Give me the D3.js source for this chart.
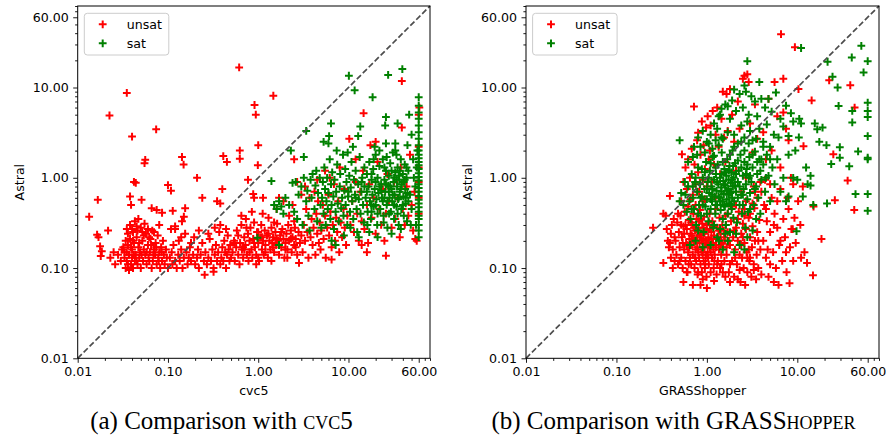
<!DOCTYPE html>
<html>
<head>
<meta charset="utf-8">
<script src="https://cdn.jsdelivr.net/npm/d3@7"></script>
<style>
  body { margin: 0; background: #fff; }
  text { font-family: "DejaVu Sans", sans-serif; }
</style>
</head>
<body>
<div id="chart"></div>
<script>

const AX_MIN = 0.01
const AX_MAX = 80
const majorTicks = [0.01, 0.1, 1, 10, 60]
const seriesNames = ["unsat", "sat"]
const yLabel = "Astral"

// (a) Astral vs cvc5, seconds
const cvc5Unsat = [
  [0.0134,0.37],[0.0167,0.57],[0.0225,4.9],[0.035,8.7],[0.040,2.86],[0.074,3.44],[0.056,1.58],[0.055,1.45],[0.042,0.9],[0.044,0.88],
  [0.0217,0.26],[0.051,0.57],[0.10,0.83],[0.108,0.72],[0.143,1.7],[0.149,1.4],[0.21,1.0],[0.24,0.6],[0.41,1.74],[0.45,1.5],
  [0.40,0.75],[0.35,0.55],[0.38,0.52],[0.615,16.7],[0.625,2.0],[0.625,1.62],[0.91,6.4],[0.94,5.0],[1.0,2.3],[0.99,1.38],
  [1.47,8.1],[0.77,0.95],[0.88,0.66],[0.9,0.6],[1.13,0.6],[14.7,5.2],[39,11.8],[39,3.6],[26,0.137],[2.83,0.114],
  [0.255,0.084],[0.32,0.091],[6.5,0.124],[2.5,1.6],[10.2,2.7],[20,2.5],[17.5,2.3],[55,0.21],[61,6],[60,5],[16,0.15],[14,0.18],
  [0.038,0.62],[0.039,0.5],[0.066,0.46],[0.075,0.44],[0.086,0.41],[0.113,0.43],[0.143,0.33],[0.15,0.37],[0.155,0.46],[0.108,0.27],[0.12,0.29],
  [0.0164,0.234],[0.017,0.22],[0.0177,0.174],[0.0185,0.153],[0.018,0.136],
  [0.028,0.14],[0.03,0.12],[0.031,0.16],[0.033,0.13],[0.034,0.1],[0.035,0.15],[0.035,0.12],[0.036,0.18],[0.037,0.095],[0.037,0.14],
  [0.038,0.21],[0.039,0.11],[0.04,0.13],[0.04,0.16],[0.041,0.25],[0.041,0.1],[0.042,0.19],[0.043,0.12],[0.044,0.14],[0.045,0.22],
  [0.046,0.11],[0.047,0.17],[0.048,0.13],[0.049,0.15],[0.05,0.28],[0.05,0.1],[0.052,0.2],[0.053,0.12],[0.054,0.16],[0.056,0.14],
  [0.057,0.24],[0.058,0.11],[0.06,0.18],[0.061,0.13],[0.063,0.15],[0.064,0.21],[0.066,0.1],[0.067,0.26],[0.068,0.12],[0.07,0.16],
  [0.072,0.14],[0.073,0.19],[0.075,0.11],[0.077,0.23],[0.078,0.13],[0.08,0.15],[0.082,0.1],[0.084,0.17],[0.086,0.12],[0.088,0.2],
  [0.09,0.14],[0.092,0.11],[0.095,0.16],[0.097,0.13],[0.1,0.1],[0.038,0.3],[0.04,0.27],[0.043,0.33],[0.045,0.29],[0.047,0.35],
  [0.055,0.31],[0.06,0.27],[0.07,0.25],[0.08,0.3],[0.036,0.24],[0.034,0.2],[0.032,0.17],[0.025,0.15],[0.023,0.13],[0.026,0.11],
  [0.033,0.15],[0.036,0.11],[0.039,0.17],[0.042,0.14],[0.045,0.12],[0.048,0.19],[0.051,0.14],[0.054,0.23],[0.058,0.15],[0.062,0.12],
  [0.065,0.18],[0.069,0.14],[0.074,0.17],[0.079,0.12],[0.085,0.15],[0.046,0.26],[0.052,0.25],[0.062,0.22],[0.035,0.27],[0.041,0.2],
  [0.105,0.13],[0.11,0.15],[0.112,0.11],[0.115,0.18],[0.12,0.12],[0.125,0.1],[0.13,0.14],[0.132,0.2],[0.135,0.12],[0.14,0.16],
  [0.145,0.1],[0.15,0.13],[0.155,0.24],[0.16,0.15],[0.165,0.11],[0.17,0.13],[0.175,0.17],[0.18,0.12],[0.19,0.14],[0.195,0.22],
  [0.2,0.11],[0.21,0.13],[0.215,0.16],[0.22,0.1],[0.23,0.14],[0.24,0.19],[0.25,0.12],[0.26,0.15],[0.27,0.11],[0.28,0.13],
  [0.29,0.21],[0.3,0.12],[0.31,0.16],[0.32,0.1],[0.33,0.14],[0.34,0.18],[0.35,0.12],[0.36,0.15],[0.37,0.25],[0.38,0.11],
  [0.39,0.13],[0.4,0.17],[0.41,0.12],[0.42,0.2],[0.43,0.15],[0.44,0.1],[0.45,0.14],[0.46,0.23],[0.47,0.16],[0.48,0.12],
  [0.49,0.18],[0.5,0.13],[0.12,0.27],[0.14,0.22],[0.18,0.19],[0.22,0.26],[0.28,0.24],[0.33,0.28],[0.38,0.3],[0.44,0.27],
  [0.52,0.15],[0.54,0.2],[0.55,0.12],[0.57,0.17],[0.58,0.26],[0.6,0.14],[0.62,0.11],[0.63,0.19],[0.65,0.3],[0.66,0.16],
  [0.68,0.13],[0.7,0.22],[0.72,0.18],[0.73,0.35],[0.75,0.14],[0.77,0.24],[0.78,0.12],[0.8,0.2],[0.82,0.28],[0.84,0.16],
  [0.86,0.13],[0.88,0.21],[0.9,0.32],[0.92,0.17],[0.95,0.14],[0.97,0.25],[1.0,0.19],[1.02,0.12],[1.05,0.22],[1.08,0.3],
  [1.1,0.16],[1.13,0.2],[1.15,0.14],[1.18,0.26],[1.2,0.18],[1.25,0.23],[1.28,0.13],[1.3,0.36],[1.33,0.2],[1.36,0.16],
  [1.4,0.28],[1.43,0.19],[1.46,0.22],[1.5,0.15],[1.55,0.25],[1.58,0.18],[1.62,0.31],[1.66,0.2],[1.7,0.14],[1.75,0.23],
  [1.8,0.17],[1.85,0.27],[1.9,0.21],[1.95,0.13],[2.0,0.19],[2.05,0.24],[2.1,0.16],[2.15,0.3],[2.2,0.2],[2.3,0.26],
  [2.35,0.15],[2.4,0.22],[2.5,0.18],[2.55,0.28],[2.6,0.21],[2.7,0.14],[2.8,0.25],[2.9,0.19],[3.0,0.23],[1.12,0.4],
  [0.85,0.42],[1.6,0.45],[2.2,0.38],[0.65,0.38],[1.9,0.55],[1.7,0.6],[2.4,0.5],[0.95,0.11],[1.4,0.12],[2.1,0.13],
  [0.55,0.19],[0.6,0.23],[0.68,0.17],[0.74,0.28],[0.8,0.15],[0.9,0.19],[1.0,0.25],[1.1,0.22],[1.2,0.15],[1.3,0.24],
  [1.45,0.17],[1.6,0.21],[1.8,0.25],[2.0,0.16],[2.3,0.21],[2.6,0.17],[1.0,0.13],[0.7,0.16],[1.5,0.32],[2.5,0.33],
  [3.1,0.15],[3.2,0.3],[3.3,0.2],[3.4,0.45],[3.5,0.25],[3.6,0.13],[3.7,0.6],[3.8,0.22],[3.9,0.35],[4.0,0.18],
  [4.1,0.28],[4.2,0.7],[4.3,0.14],[4.4,0.4],[4.5,0.24],[4.6,0.55],[4.7,0.19],[4.8,0.32],[4.9,0.16],[5.0,0.26],
  [5.2,0.5],[5.3,0.21],[5.5,0.38],[5.6,0.13],[5.8,0.28],[6.0,0.65],[6.1,0.23],[6.3,0.42],[6.5,0.17],[6.7,0.3],
  [6.9,0.85],[7.1,0.2],[7.3,0.36],[7.5,0.25],[7.7,0.55],[7.9,0.15],[8.2,0.32],[8.5,0.22],[8.8,0.45],[9.1,0.28],
  [9.4,0.18],[9.7,0.38],[3.3,0.8],[4.5,0.95],[5.5,1.2],[6.2,1.0],[8.0,1.3],[9.0,0.75],[3.0,0.65],[2.7,0.9],
  [10.5,0.3],[11,0.55],[11.5,0.25],[12,0.9],[12.5,0.4],[13,0.2],[13.5,0.7],[14,0.33],[14.5,1.2],[15,0.27],
  [16,0.5],[16.5,0.19],[17,0.85],[18,0.36],[19,0.6],[20,0.24],[21,1.5],[22,0.45],[23,0.3],[24,0.75],
  [25,0.2],[26,0.4],[27,1.1],[28,0.55],[30,0.28],[32,0.9],[33,0.35],[35,0.6],[37,0.22],[38,1.3],
  [40,0.45],[42,0.3],[44,0.8],[46,0.38],[48,1.8],[50,0.5],[52,0.26],[54,0.7],[57,0.2],[60,0.4],
  [60,0.9],[60,1.3],[60,2.2],[60,0.6],[12,1.6]
]

const cvc5Sat = [
  [10.1,13.5],[11.7,9.3],[18.5,7.8],[27.5,13.8],[39.5,16],[26,4.7],[25.5,3.8],[6.4,4.0],[6.1,2.9],[3.4,3.3],
  [2.3,2.0],[3.2,1.7],[1.4,0.92],[0.98,0.216],[1.7,0.18],[13.5,3.7],[12.8,2.9],[33,2.4],[35,4.0],[45,2.3],[50,3.0],[47,5.0],
  [1.5,0.5],[1.6,0.45],[1.7,0.55],[1.8,0.48],[1.9,0.4],[2.0,0.6],[2.2,0.5],[2.4,0.88],[2.5,0.42],[2.6,0.9],
  [2.7,0.35],[2.8,0.65],[3.0,0.8],[3.1,0.3],[3.2,1.0],[3.4,0.55],[3.5,0.72],[3.6,0.38],[3.8,0.95],[3.9,0.6],
  [4.0,1.1],[4.2,0.45],[4.3,0.82],[4.5,0.33],[4.6,0.68],[4.8,1.0],[4.9,0.5],[5.0,0.28],[4.4,1.2],[3.7,0.26],
  [5.1,0.6],[5.2,0.9],[5.3,0.4],[5.4,1.3],[5.5,0.75],[5.6,0.3],[5.7,0.55],[5.8,1.0],[5.9,0.45],[6.0,0.68],
  [6.2,1.6],[6.3,0.35],[6.4,0.85],[6.5,0.5],[6.6,1.15],[6.8,0.62],[6.9,0.27],[7.0,0.95],[7.2,0.42],[7.3,0.7],
  [7.5,1.4],[7.6,0.52],[7.8,0.33],[8.0,0.8],[8.1,1.1],[8.3,0.46],[8.5,0.6],[8.7,1.8],[8.8,0.38],[9.0,0.72],
  [9.2,1.25],[9.3,0.5],[9.5,0.9],[9.7,0.3],[9.9,0.62],[10.2,1.05],[10.4,0.42],[10.6,0.78],[10.8,1.5],[11.0,0.55],
  [11.3,0.35],[11.5,0.95],[11.8,0.65],[12.0,1.2],[12.3,0.45],[12.5,0.25],[12.8,0.85],[13.0,0.58],[13.3,1.7],[13.6,0.4],
  [13.9,0.7],[14.2,1.0],[14.5,0.5],[14.8,0.32],[15,0.8],[7.4,2.0],[9.8,1.9],[11.2,2.2],[6.0,2.4],[5.3,2.5],
  [8.9,0.23],[10.5,0.28],[6.5,0.2],[13,0.22],[7.2,0.18],
  [15.5,0.6],[16,1.1],[16.3,0.42],[16.7,0.8],[17,1.5],[17.3,0.55],[17.7,0.35],[18,0.95],[18.4,0.65],[18.8,1.25],
  [19,0.48],[19.5,0.75],[20,1.8],[20.4,0.58],[20.8,0.3],[21,1.0],[21.5,0.68],[22,1.35],[22.5,0.45],[23,0.85],
  [23.5,0.6],[24,1.6],[24.5,0.38],[25,0.95],[25.5,0.7],[26,1.2],[26.5,0.5],[27,0.28],[27.5,0.82],[28,1.05],
  [28.5,0.6],[29,1.45],[29.5,0.42],[30,0.75],[30.5,0.55],[31,1.9],[31.5,0.9],[32,0.35],[32.5,0.65],[33,1.15],
  [34,0.48],[34.5,0.8],[35,1.3],[35.5,0.58],[36,0.3],[36.5,0.95],[37,0.7],[38,1.6],[38.5,0.45],[39,0.85],
  [40,1.1],[40.5,0.62],[41,0.38],[42,1.4],[42.5,0.75],[43,0.52],[44,1.0],[44.5,0.33],[45,0.68],[19.5,2.2],
  [22,2.0],[26,2.4],[33,2.0],[17,0.25],[21,0.22],[30,0.24],[38,0.27],[16.2,0.3],[24.5,0.32],[28.2,0.4],
  [35,0.4],[18,0.5],[23,0.72],[27,0.55],[20,0.9],[25,1.3],[29,0.8],[32,1.0],[37,1.2],[41,0.9],
  [43,0.6],[19,1.6],[26.5,1.7],[34,1.8],
  [12,0.6],[14,0.9],[16,0.7],[18,1.1],[20,0.5],[22,0.8],[24,0.55],[26,0.85],[28,0.7],[30,1.2],
  [32,0.5],[34,0.95],[36,0.6],[38,0.75],[40,0.5],[42,0.95],[44,1.3],[46,0.55],[21,0.4],[25,0.6],
  [31,0.65],[36,1.05],[15,1.3],[18,0.42],[10,0.7],
  [60,0.22],[60,0.26],[60,0.3],[60,0.35],[60,0.38],[60,0.42],[60,0.47],[60,0.52],[60,0.57],[60,0.63],
  [60,0.7],[60,0.77],[60,0.85],[60,0.93],[60,1.02],[60,1.12],[60,1.25],[60,1.38],[60,1.5],[60,1.65],
  [60,1.8],[60,2.0],[60,2.3],[60,2.7],[60,3.2],[60,3.8],[60,4.5],[60,5.3],[60,6.3],[60,7.8],
  [57,1.3],[55,0.8],[53,1.0],[50,0.45],[48,0.65],[56,0.3],[52,1.6],[46,1.2],[49,0.3],[58,2.0]
]

// (b) Astral vs GRASShopper, seconds
const grassUnsat = [
  [0.45,0.2],[0.46,0.14],[0.47,0.32],[0.48,0.11],[0.49,0.25],[0.5,0.17],[0.51,0.38],[0.52,0.13],[0.53,0.22],[0.54,0.1],
  [0.55,0.29],[0.56,0.16],[0.57,0.42],[0.58,0.12],[0.59,0.19],[0.6,0.27],[0.61,0.09],[0.62,0.15],[0.63,0.34],[0.64,0.21],
  [0.65,0.13],[0.66,0.24],[0.67,0.11],[0.68,0.18],[0.69,0.3],[0.7,0.14],[0.71,0.4],[0.72,0.2],[0.73,0.1],[0.74,0.26],
  [0.75,0.16],[0.76,0.12],[0.77,0.35],[0.78,0.22],[0.79,0.085],[0.8,0.15],[0.81,0.28],[0.82,0.13],[0.83,0.19],[0.84,0.44],
  [0.85,0.11],[0.86,0.24],[0.87,0.16],[0.88,0.09],[0.89,0.31],[0.9,0.14],[0.91,0.21],[0.92,0.12],[0.93,0.37],[0.94,0.17],
  [0.95,0.1],[0.96,0.26],[0.97,0.13],[0.98,0.19],[0.99,0.08],[1.0,0.3],[1.02,0.15],[1.04,0.22],[1.05,0.11],[1.07,0.4],
  [1.08,0.17],[1.1,0.09],[1.12,0.25],[1.14,0.13],[1.15,0.33],[1.17,0.19],[1.19,0.1],[1.2,0.23],[1.22,0.14],[1.24,0.45],
  [1.26,0.18],[1.28,0.085],[1.3,0.28],[1.32,0.12],[1.34,0.21],[1.36,0.16],[1.38,0.36],[1.4,0.1],[1.42,0.24],[1.44,0.14],
  [1.46,0.19],[1.48,0.3],[1.5,0.09],[1.52,0.17],[1.54,0.26],[1.56,0.12],[1.58,0.2],[1.6,0.38],[0.55,0.07],[0.7,0.065],
  [0.85,0.065],[1.0,0.06],[0.62,0.48],[0.75,0.5],[0.9,0.55],[0.52,0.55],[0.66,0.58],[0.48,0.4],[0.58,0.3],[0.68,0.23],
  [0.78,0.17],[0.88,0.2],[0.98,0.14],[1.08,0.27],[1.18,0.16],[0.72,0.28],[0.82,0.33],[0.94,0.24],[1.04,0.18],[0.64,0.17],[0.54,0.19],
  [0.5,0.12],[0.52,0.3],[0.56,0.24],[0.6,0.18],[0.63,0.11],[0.67,0.32],[0.7,0.21],[0.74,0.13],[0.77,0.27],[0.8,0.09],
  [0.83,0.23],[0.86,0.35],[0.89,0.15],[0.92,0.28],[0.96,0.11],[1.0,0.2],[1.03,0.13],[1.06,0.32],[1.1,0.15],[1.13,0.21],
  [1.17,0.29],[1.21,0.12],[1.25,0.17],[1.3,0.11],[1.35,0.26],[1.4,0.18],[1.45,0.11],[1.55,0.22],[1.65,0.17],[1.8,0.11],
  [0.6,0.09],[0.9,0.075],[1.2,0.072],[1.6,0.08],[2.2,0.075],[2.6,0.38],[3.0,0.13],[3.7,0.2],[4.5,0.45],[5.5,0.3],
  [6.5,0.2],[7.5,0.15],[5.0,0.11],[6.0,0.55],[3.4,0.7],
  [1.65,0.14],[1.7,0.25],[1.75,0.09],[1.8,0.18],[1.85,0.33],[1.9,0.12],[1.95,0.22],[2.0,0.08],[2.05,0.16],[2.1,0.28],
  [2.15,0.11],[2.2,0.2],[2.25,0.42],[2.3,0.14],[2.35,0.07],[2.4,0.24],[2.45,0.13],[2.5,0.31],[2.55,0.1],[2.6,0.19],
  [2.65,0.065],[2.7,0.27],[2.75,0.15],[2.8,0.09],[2.9,0.36],[2.95,0.12],[3.0,0.22],[3.1,0.08],[3.15,0.17],[3.2,0.29],
  [3.3,0.11],[3.35,0.46],[3.4,0.2],[3.5,0.075],[3.55,0.14],[3.6,0.25],[3.7,0.1],[3.8,0.34],[3.9,0.16],[4.0,0.085],
  [1.7,0.4],[1.9,0.48],[2.2,0.35],[2.6,0.45],[3.0,0.4],[1.8,0.07],[2.3,0.095],[2.8,0.13],[3.3,0.095],[1.62,0.3],
  [2.0,0.26],[2.4,0.18],[2.1,0.5],[3.6,0.6],[2.7,0.55],[3.2,0.52],[1.75,0.2],[2.05,0.13],[2.5,0.22],[2.9,0.16],
  [4.2,0.2],[4.3,0.5],[4.5,0.13],[4.6,0.33],[4.8,0.08],[5.0,0.25],[5.2,0.6],[5.4,0.15],[5.6,0.4],[5.8,0.1],
  [6.0,0.28],[6.3,0.18],[6.5,0.75],[6.8,0.12],[7.0,0.35],[7.3,0.22],[7.6,0.09],[8.0,0.45],[8.3,0.17],[8.6,0.27],
  [9.0,0.85],[9.3,0.36],[9.6,0.19],[10.2,0.55],[10.8,0.3],[11.5,0.8],[4.0,0.7],[4.4,0.95],[5.5,0.07],[6.2,0.065],
  [5.0,0.85],[7.8,0.6],[8.5,1.0],[9.0,0.12],[4.7,0.16],
  [11,0.13],[12,0.15],[12.8,0.114],[14.9,0.083],[8.2,0.068],[18.5,0.21],[15.1,0.48],[8.9,0.27],[11.7,2.24],[25,1.82],
  [36,0.93],[26,0.565],[42.6,0.44],[43,6.0],[38.5,10.6],[22.5,12],[14.4,7.2],[10.3,9.6],[9.4,28],[6.6,39],
  [0.254,0.28],[0.33,0.114],[0.33,0.4],[0.35,0.38],[0.37,0.2],[0.38,0.17],[0.39,0.63],[0.4,0.13],[0.4,0.24],[0.41,0.3],
  [0.42,0.1],[0.42,0.16],[0.43,0.35],[0.44,0.22],[0.44,0.12],[0.36,0.27],[0.39,0.19],
  [0.53,1.82],[0.72,6.15],[0.8,3.16],[0.55,0.9],[0.58,1.3],[0.6,0.75],[0.62,1.6],[0.65,1.0],[0.68,2.1],[0.7,0.65],
  [0.73,1.4],[0.75,0.85],[0.78,2.6],[0.8,1.15],[0.82,0.7],[0.85,1.8],[0.88,4.2],[0.9,0.95],[0.92,2.3],[0.95,1.25],
  [0.98,3.6],[1.0,0.8],[1.02,4.8],[1.05,1.6],[1.08,2.0],[1.1,3.8],[1.13,0.9],[1.16,5.5],[1.2,1.4],[1.25,3.0],
  [1.3,6.0],[1.35,2.2],[1.4,1.1],[1.45,4.5],[1.5,9.0],[1.55,2.8],[1.6,1.5],[1.65,8.5],[1.7,3.3],[1.8,9.6],
  [1.9,5.0],[2.0,2.5],[2.1,1.2],[2.2,7.0],[2.3,3.5],[2.5,12.5],[2.6,13.5],[2.8,14],[2.9,11.5],[3.0,4.0],
  [3.2,1.9],[3.4,6.5],[3.6,2.7],[3.9,0.9],[4.2,3.2],[4.5,1.6],[4.8,7.5],[5.2,2.0],[5.6,11.5],[6.0,4.8],
  [6.5,1.3],[7.0,12.5],[7.5,3.5],[8.0,2.6],[7.0,5.3],[2.4,0.7],[3.3,0.8],[1.25,0.6],[0.95,0.58],[2.7,1.0]
]

const grassSat = [
  [0.55,0.5],[0.58,0.65],[0.6,0.42],[0.62,0.8],[0.64,0.55],[0.66,0.35],[0.68,1.1],[0.7,0.6],[0.72,0.45],[0.74,0.9],
  [0.76,0.3],[0.78,0.7],[0.8,1.3],[0.82,0.5],[0.84,0.85],[0.86,0.38],[0.88,0.62],[0.9,1.0],[0.92,0.25],[0.94,0.75],
  [0.96,0.48],[0.98,1.5],[1.0,0.58],[1.02,0.9],[1.04,0.33],[1.06,0.68],[1.08,1.2],[1.1,0.45],[1.12,0.8],[1.14,0.55],
  [1.16,1.7],[1.18,0.28],[1.2,0.95],[1.22,0.62],[1.24,0.4],[1.26,1.1],[1.28,0.72],[1.3,0.5],[1.32,1.4],[1.34,0.85],
  [1.36,0.2],[1.38,0.6],[1.4,1.0],[1.42,0.44],[1.44,0.78],[1.46,1.9],[1.48,0.55],[1.5,0.35],[1.52,0.92],[1.54,0.66],
  [1.56,1.25],[1.58,0.48],[1.6,0.82],[1.62,0.3],[1.64,1.05],[1.66,0.58],[1.68,1.6],[1.7,0.4],[1.72,0.75],[1.74,0.95],
  [1.76,0.52],[1.78,1.35],[1.8,0.25],[1.82,0.68],[1.84,0.88],[1.86,1.15],[1.88,0.45],[1.9,0.6],[1.92,2.0],[1.94,0.8],
  [1.96,0.36],[1.98,1.0],[2.0,0.55],[2.05,1.45],[2.1,0.7],[2.15,0.32],[2.2,0.9],[2.25,1.2],[2.3,0.5],[2.35,1.8],
  [2.4,0.65],[2.45,0.4],[2.5,1.05],[2.55,0.75],[2.6,1.5],[2.65,0.28],[2.7,0.85],[2.75,1.25],[2.8,0.58],[2.85,0.42],
  [2.9,1.0],[2.95,1.7],[3.0,0.68],[3.1,0.9],[3.2,1.3],[3.3,0.5],[3.4,1.95],[3.5,0.8],[3.6,1.1],[3.7,0.6],
  [3.8,1.6],[3.9,0.4],[4.0,0.95],[4.2,1.4],[4.4,0.7],[4.6,1.8],[4.8,1.05],[5.0,0.55],[5.3,1.3],[5.6,0.85],
  [6.0,1.6],[0.75,0.2],[0.9,0.17],[1.1,0.18],[1.3,0.22],[1.5,0.16],[1.7,0.2],[2.0,0.15],[2.3,0.18],[2.6,0.16],
  [0.65,0.18],[0.8,0.26],[1.2,0.3],[1.4,0.27],[1.6,0.24],[2.1,0.24],[2.8,0.22],[3.2,0.26],[3.5,0.35],[0.62,1.5],
  [0.7,1.7],[0.78,1.8],[0.85,2.2],[0.95,1.9],[1.05,2.4],[1.15,2.1],[1.25,2.6],[1.35,2.3],[1.45,2.8],[0.5,0.55],
  [0.52,0.68],[0.57,0.9],[0.7,0.8],[0.85,0.6],[1.0,0.75],[1.15,0.65],[1.3,0.9],[1.45,0.7],[1.6,1.15],[1.75,0.65],
  [1.9,0.95],[2.2,0.6],[2.5,0.5],[2.7,1.1],[3.0,0.45],[0.95,1.15],[1.1,1.45],[1.25,0.5],[1.4,0.55],[1.55,0.85],
  [1.85,0.5],[2.05,0.82],
  [1.05,1.0],[1.15,0.75],[1.25,1.3],[1.35,0.62],[1.45,1.1],[1.55,0.5],[1.65,0.72],[1.75,1.2],[1.85,0.7],[1.95,1.35],
  [2.1,1.1],[2.2,1.55],[2.3,0.8],[2.4,1.3],[2.5,0.65],[2.6,2.0],[2.8,1.4],[3.0,1.05],[3.2,1.8],[3.4,0.75],
  [3.6,1.5],[3.9,1.2],[4.2,2.2],[4.5,1.0],[5.0,1.6],[1.2,1.75],[1.5,1.5],[1.8,1.8],[2.0,2.2],[2.4,2.5],
  [0.68,0.45],[0.8,0.4],[0.9,0.5],[1.0,0.4],[1.1,0.58],[0.75,1.0],[0.88,1.25],[2.9,2.4],[3.5,2.7],[4.0,1.6],
  [0.5,2.6],[0.72,2.2],[0.8,2.8],[0.9,3.3],[1.0,2.5],[1.1,3.0],[1.2,4.0],[1.3,3.5],[1.4,5.0],[1.5,2.7],
  [1.6,6.5],[1.7,3.2],[1.8,4.5],[1.9,7.2],[2.0,3.0],[2.1,5.5],[2.2,2.4],[2.3,8.5],[2.4,3.8],[2.5,6.0],
  [2.6,2.8],[2.7,9.0],[2.8,4.2],[2.9,5.0],[3.0,3.3],[3.2,2.6],[3.4,7.0],[3.6,4.8],[3.8,3.5],[4.0,7.5],
  [4.2,2.5],[4.4,6.0],[4.6,3.9],[4.8,7.5],[5.0,2.2],[5.2,5.4],[5.5,3.0],[5.8,8.8],[6.2,2.8],[6.5,4.5],
  [7.0,3.7],[7.5,6.3],[8.0,2.9],[8.5,5.2],[2.8,19.6],[2.6,10.5],[3.8,11.5],[1.7,6.2],[1.45,5.8],[1.35,4.8],
  [2.0,9.5],[3.1,8.0],
  [11,27.4],[51,29],[40,21.5],[60,19.6],[54,14.7],[21.6,19.3],[24.5,13.2],[27.9,10],[28.6,6.25],[40.5,5.5],
  [40.5,4.1],[60,6.8],[60,5.5],[60,4.7],[60,2.9],[60,1.67],[60,1.6],[47,1.96],[44,0.66],[60,0.66],
  [60,0.43],[37.5,1.34],[29.5,2.18],[29.5,1.67],[21,2.3],[23.7,1.42],[15.6,4.0],[16.6,3.44],[19,3.6],[17.5,2.5],
  [21.3,0.52],[9.8,0.256],[9.0,4.2],[9.5,2.0],[10.5,4.5],[11,4.0],[12.5,1.3],[13,0.85],[14,1.05],[15,0.5],
  [8,1.8],[9,1.0],[10,0.95],[7,1.0],[6.5,0.7],[7.5,0.55],[11.5,0.62],[10.4,2.8],[8,0.62],[14,0.82]
]

var width = 886
var height = 437
var plotTop = 6
var plotBottom = 358.3
var colors = {unsat: "#ff0000", sat: "#008000"}

var svg = d3.select("#chart")
  .append("svg")
    .attr("width", width)
    .attr("height", height)

var plus = "M-3.9,0H3.9M0,-3.9V3.9"

function isMajor(v) {
    return majorTicks.some(m => Math.abs(v / m - 1) < 1e-6)
}

function drawPanel(left, right, xLabel, unsat, sat) {
    var xScale = d3.scaleLog().domain([AX_MIN, AX_MAX]).range([left, right])
    var yScale = d3.scaleLog().domain([AX_MIN, AX_MAX]).range([plotBottom, plotTop])
    var g = svg.append("g")

    var minorX = xScale.ticks().filter(v => !isMajor(v))
    var minorY = yScale.ticks().filter(v => !isMajor(v))

    // points, unsat first so sat sits on top
    ;[[unsat, colors.unsat], [sat, colors.sat]].forEach(function(s) {
        g.append("g")
          .selectAll("path")
          .data(s[0])
          .join("path")
            .attr("transform", d => `translate(${xScale(d[0])},${yScale(d[1])})`)
            .attr("d", plus)
            .attr("stroke", s[1])
            .attr("stroke-width", 2)
            .attr("fill", "none")
    })

    // diagonal
    g.append("line")
        .attr("x1", xScale(AX_MIN)).attr("y1", yScale(AX_MIN))
        .attr("x2", xScale(AX_MAX)).attr("y2", yScale(AX_MAX))
        .attr("stroke", "#4d4d4d")
        .attr("stroke-width", 1.7)
        .attr("stroke-dasharray", "5.8,2.6")

    // axes
    var fmt = d3.format(".2f")
    g.append("g")
        .attr("transform", `translate(0,${plotBottom})`)
        .call(d3.axisBottom(xScale).tickValues(majorTicks).tickFormat(fmt).tickSize(4.5).tickPadding(4.5).tickSizeOuter(0))
    g.append("g")
        .attr("transform", `translate(0,${plotBottom})`)
        .call(d3.axisBottom(xScale).tickValues(minorX).tickFormat("").tickSize(2.6).tickSizeOuter(0))
    g.append("g")
        .attr("transform", `translate(${left},0)`)
        .call(d3.axisLeft(yScale).tickValues(majorTicks).tickFormat(fmt).tickSize(4.5).tickPadding(4.5).tickSizeOuter(0))
    g.append("g")
        .attr("transform", `translate(${left},0)`)
        .call(d3.axisLeft(yScale).tickValues(minorY).tickFormat("").tickSize(2.6).tickSizeOuter(0))

    g.selectAll(".domain").remove()
    g.selectAll(".tick line").attr("stroke", "#000").attr("stroke-width", 0.9)
    g.selectAll(".tick text")
        .attr("fill", "#000")
        .style("font-size", "12.6px")
        .style("font-family", "DejaVu Sans")

    g.append("rect")
        .attr("x", left).attr("y", plotTop)
        .attr("width", right - left).attr("height", plotBottom - plotTop)
        .attr("fill", "none")
        .attr("stroke", "#000")
        .attr("stroke-width", 1)

    // axis titles
    g.append("text")
        .attr("text-anchor", "middle")
        .attr("x", (left + right) / 2)
        .attr("y", 394.5)
        .style("font-size", "12.6px")
        .text(xLabel)

    g.append("text")
        .attr("text-anchor", "middle")
        .attr("transform", `translate(${left - 54},${(plotTop + plotBottom) / 2}) rotate(-90)`)
        .style("font-size", "12.6px")
        .text(yLabel)

    // legend
    var lg = g.append("g").attr("transform", `translate(${left + 6.6},13.3)`)
    lg.append("rect")
        .attr("width", 84.5).attr("height", 41.7)
        .attr("rx", 3)
        .attr("fill", "#fff").attr("fill-opacity", 0.8)
        .attr("stroke", "#cccccc").attr("stroke-width", 1)
    seriesNames.forEach(function(name, i) {
        lg.append("path")
            .attr("transform", `translate(18.4,${11 + i * 19})`)
            .attr("d", plus)
            .attr("stroke", colors[name])
            .attr("stroke-width", 2)
        lg.append("text")
            .attr("x", 42.4)
            .attr("y", 11 + i * 19)
            .attr("dy", "0.35em")
            .style("font-size", "12.6px")
            .text(name)
    })
}

drawPanel(77.7, 430, "cvc5", cvc5Unsat, cvc5Sat)
drawPanel(526, 879, "GRASShopper", grassUnsat, grassSat)

// sub-figure captions
function caption(cx, label, plain, caps) {
    var t = svg.append("text")
        .attr("x", cx)
        .attr("y", 429)
        .attr("text-anchor", "middle")
        .style("font-family", "'Liberation Serif', 'Times New Roman', serif")
        .style("font-size", "25px")
    t.append("tspan").text(label + " Comparison with " + plain)
    t.append("tspan").style("font-variant", "small-caps").text(caps)
}
caption(221.5, "(a)", "", "cvc5")
caption(673.5, "(b)", "GRASS", "hopper")

</script>
</body>
</html>
